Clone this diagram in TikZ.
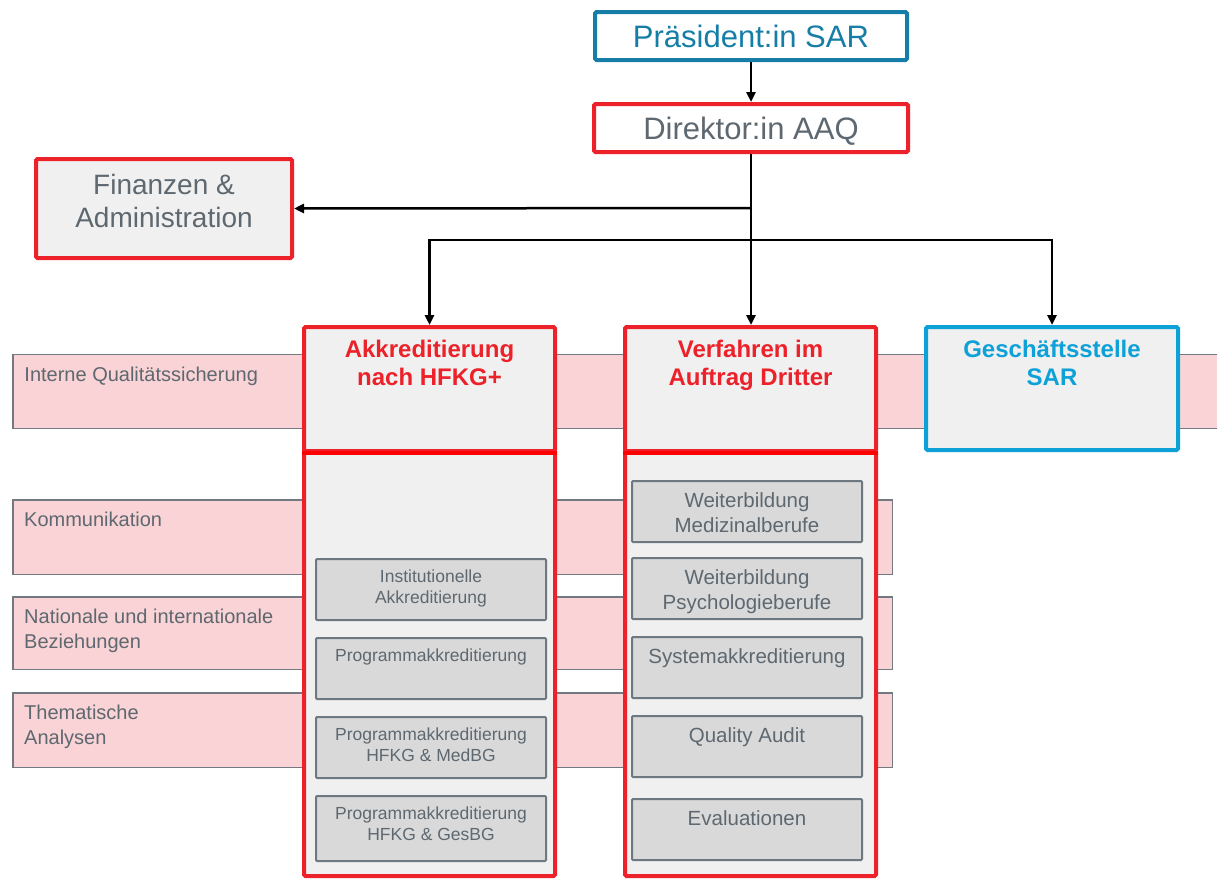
\documentclass[tikz,border=0pt]{standalone}
\usepackage{fontspec}
\setmainfont{Liberation Sans}
\usetikzlibrary{arrows.meta}
\definecolor{sarblue}{RGB}{22,126,166}
\definecolor{gsblue}{RGB}{14,161,216}
\definecolor{aaqred}{RGB}{236,33,41}
\definecolor{txtgray}{RGB}{94,104,112}
\definecolor{boxgray}{RGB}{240,240,240}
\definecolor{subgray}{RGB}{217,217,217}
\definecolor{subline}{RGB}{110,120,128}
\definecolor{bandpink}{RGB}{249,211,213}
\definecolor{bandline}{RGB}{115,121,128}
\tikzset{
  orgbox/.style={rectangle, draw, line width=4pt, inner sep=0pt, align=center, text=txtgray, rounded corners=1.5pt},
  band/.style={rectangle, draw=bandline, line width=1.5pt, fill=bandpink, inner sep=0pt},
  bandtxt/.style={anchor=north west, inner sep=0pt, xshift=12pt, yshift=-13pt, align=left, text=txtgray, font=\fontsize{20}{25}\selectfont},
  colhead/.style={orgbox, draw=aaqred, fill=boxgray, minimum width=251pt, minimum height=124pt},
  colbody/.style={orgbox, draw=aaqred, fill=boxgray, minimum width=251pt, minimum height=425pt},
  headtxt/.style={anchor=north, inner sep=0pt, align=center, font=\bfseries\fontsize{24}{28}\selectfont},
  subbox/.style={rectangle, draw=subline, line width=2pt, fill=subgray, minimum width=230pt, minimum height=61pt, inner sep=0pt, rounded corners=1pt},
  subtxt/.style={anchor=north, inner sep=0pt, yshift=-12pt, align=center, text=txtgray},
  akksub/.style={subbox, label={[subtxt, font=\fontsize{17.5}{21}\selectfont]north:#1}},
  versub/.style={subbox, label={[subtxt, font=\fontsize{20.5}{25}\selectfont]north:#1}},
  conn/.style={line width=2.5pt, -{Triangle[length=10pt, width=9pt]}}
}
\begin{document}
\begin{tikzpicture}[x=1pt, y=1pt]
\useasboundingbox (0,0) rectangle (1217,-881);

\node[band, minimum width=1212pt, minimum height=74pt, label={[bandtxt]north west:Interne Qualitätssicherung}] (qs) at (619,-391.5) {};
\node[band, minimum width=879.5pt, minimum height=74.5pt, label={[bandtxt]north west:Kommunikation}] (komm) at (452.5,-537) {};
\node[band, minimum width=879.5pt, minimum height=72.5pt, label={[bandtxt]north west:{Nationale und internationale\\Beziehungen}}] (bez) at (452.5,-633) {};
\node[band, minimum width=879.5pt, minimum height=74.5pt, label={[bandtxt]north west:{Thematische\\Analysen}}] (them) at (452.5,-730) {};

\node[colbody] (akkbody) at (429.5,-663.5) {};
\node[colhead] (akkhead) at (429.5,-389) {};
\draw[red, line width=4pt] (akkhead.south west) -- (akkhead.south east);
\node[headtxt, text=aaqred] (akktxt) at (429.5,-340) {Akkreditierung\\nach HFKG+};

\node[colbody] (verbody) at (750.5,-663.5) {};
\node[colhead] (verhead) at (750.5,-389) {};
\draw[red, line width=4pt] (verhead.south west) -- (verhead.south east);
\node[headtxt, text=aaqred] (vertxt) at (750.5,-340) {Verfahren im\\Auftrag Dritter};

\node[orgbox, draw=gsblue, fill=boxgray, minimum width=252pt, minimum height=123pt] (gs) at (1052,-388.5) {};
\node[headtxt, text=gsblue] (gstxt) at (1052,-340) {Geschäftsstelle\\SAR};

\node[akksub={Institutionelle\\Akkreditierung}] (inst) at (431,-589.5) {};
\node[akksub={Programmakkreditierung}] (prog) at (431,-668.5) {};
\node[akksub={Programmakkreditierung\\HFKG \& MedBG}] (med) at (431,-747.5) {};
\node[akksub={Programmakkreditierung\\HFKG \& GesBG}, minimum height=65pt] (ges) at (431,-828.5) {};

\node[versub={Weiterbildung\\Medizinalberufe}] (wbmed) at (747,-511.5) {};
\node[versub={Weiterbildung\\Psychologieberufe}] (wbpsy) at (747,-588.5) {};
\node[versub={Systemakkreditierung}] (sys) at (747,-667.5) {};
\node[versub={Quality Audit}] (qa) at (747,-746.5) {};
\node[versub={Evaluationen}] (eval) at (747,-829.5) {};

\node[orgbox, draw=sarblue, text=sarblue, minimum width=312pt, minimum height=48pt, font=\fontsize{31}{37}\selectfont] (praes) at (751,-36) {Präsident:in SAR};
\node[orgbox, draw=aaqred, fill=white, minimum width=314pt, minimum height=48pt, text depth=0pt, font=\fontsize{31}{37}\selectfont] (dir) at (751,-128) {Direktor:in AAQ};
\node[orgbox, draw=aaqred, fill=boxgray, minimum width=256pt, minimum height=99pt, label={[inner sep=0pt, align=center, text=txtgray, font=\fontsize{28}{33}\selectfont, yshift=8pt]center:{Finanzen \&\\Administration}}] (fin) at (164,-208.5) {};

\coordinate (finjoin) at (751,-208);
\coordinate (split) at (751,-240);
\draw[conn] (praes) -- (dir);
\draw[conn] (dir.south) -- (dir.south |- verhead.north);
\draw[conn] (finjoin) -- (fin.east);
\draw[conn] (split) -| (akkhead.north);
\draw[conn] (split) -| (gs.north);
\end{tikzpicture}
\end{document}
